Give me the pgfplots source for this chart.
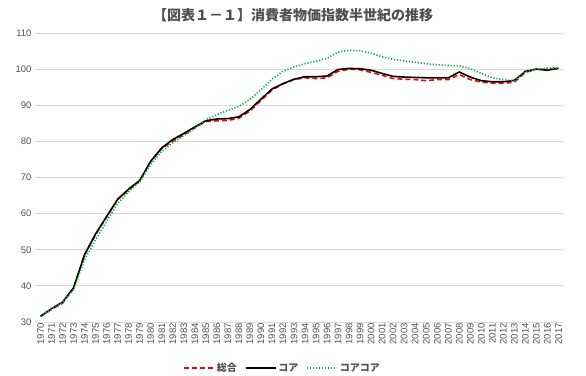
\documentclass[border=0pt]{standalone}
\usepackage{fontspec}
\setmainfont{Liberation Sans}
\newfontfamily\jp{Noto Sans CJK JP}
\usepackage{pgfplots}
\usepackage{pgfplotstable}
\pgfplotsset{compat=1.18}
\definecolor{gridgray}{RGB}{217,217,217}
\definecolor{labgray}{RGB}{80,80,80}
\definecolor{cgreen}{RGB}{0,176,80}
\pgfplotstableread{
year sogo core corecore
1970 31.5 31.6 31.5
1971 33.5 33.7 33.6
1972 35.2 35.5 35.5
1973 39.3 39.5 39.0
1974 48.5 48.7 47.3
1975 54.2 54.4 52.8
1976 59.1 59.2 57.8
1977 63.9 64.0 62.8
1978 66.6 66.8 66.0
1979 69.0 69.2 68.8
1980 74.4 74.5 73.6
1981 78.0 78.2 77.2
1982 80.1 80.5 79.6
1983 81.8 82.2 81.6
1984 83.8 84.0 83.6
1985 85.5 85.7 86.0
1986 85.7 86.2 87.4
1987 85.8 86.3 88.6
1988 86.4 86.8 89.7
1989 88.4 88.8 91.6
1990 91.3 91.7 94.3
1991 94.2 94.5 97.2
1992 95.9 96.0 99.4
1993 97.1 97.2 100.6
1994 97.6 97.9 101.5
1995 97.4 97.9 102.2
1996 97.6 98.1 103.0
1997 99.4 99.9 104.7
1998 100.0 100.2 105.2
1999 99.8 100.1 105.1
2000 99.1 99.7 104.4
2001 98.3 98.8 103.4
2002 97.4 98.0 102.7
2003 97.2 97.8 102.3
2004 97.1 97.7 101.9
2005 96.8 97.6 101.5
2006 97.1 97.6 101.2
2007 97.1 97.6 101.0
2008 98.5 99.2 100.9
2009 97.1 97.8 100.1
2010 96.4 96.8 98.8
2011 96.1 96.5 97.6
2012 96.1 96.5 97.1
2013 96.4 96.9 96.8
2014 99.1 99.4 99.3
2015 100.0 100.0 100.0
2016 99.9 99.7 100.3
2017 100.4 100.2 100.3
}\datatable
\begin{document}
\begin{tikzpicture}
\useasboundingbox (-35pt,-53pt) rectangle (551pt,322pt);
\begin{axis}[
  at={(0,0)}, anchor=south west,
  scale only axis, width=529pt, height=289pt,
  xmin=1969.5, xmax=2017.5, ymin=30, ymax=110,
  xtick={1970,1971,...,2017},
  ytick={30,40,...,110},
  /pgf/number format/assume math mode=true,
  /pgf/number format/set thousands separator={},
  xticklabel style={rotate=90, anchor=east, font=\fontsize{9.5}{9.5}\selectfont, text=labgray, inner sep=1pt},
  yticklabel style={font=\fontsize{9.5}{9.5}\selectfont, text=labgray},
  major tick length=0pt,
  axis line style={draw=none},
  ymajorgrids, grid style={gridgray, line width=1pt},
  legend style={at={(0.468,-0.159)}, anchor=center, draw=none, fill=none,
    legend columns=3, font=\jp\bfseries\fontsize{10}{10}\selectfont, text=labgray,
    /tikz/every even column/.append style={column sep=6pt}},
  legend cell align=left,
  legend image code/.code={\draw[#1] (0pt,0pt) -- (30pt,0pt);},
]
\addplot[red, line width=1.6pt, dash pattern=on 5pt off 3pt] table[x=year,y=sogo]{\datatable};
\addlegendentry{総合}
\addplot[black, line width=1.6pt] table[x=year,y=core]{\datatable};
\addlegendentry{コア}
\addplot[cgreen, line width=1.6pt, dash pattern=on 1.2pt off 1.8pt] table[x=year,y=corecore]{\datatable};
\addlegendentry{コアコア}
\end{axis}
\node[font=\jp\bfseries\fontsize{14}{14}\selectfont, text=labgray] at (258pt,307pt) {【図表１－１】消費者物価指数半世紀の推移};
\end{tikzpicture}
\end{document}
